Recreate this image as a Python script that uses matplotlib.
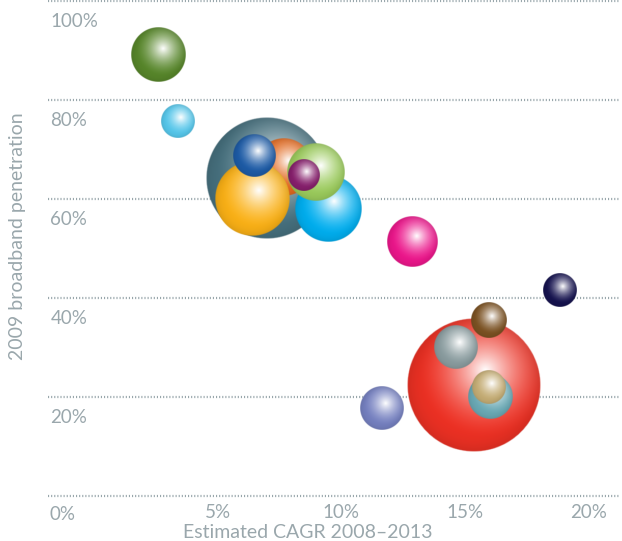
import numpy as np
import matplotlib.pyplot as plt
import matplotlib.colors as mcolors

# estimated CAGR 2008-2013 (%), 2009 broadband penetration (%), market size (relative)
cagr = [6.98, 7.67, 6.38, 6.46, 9.47, 8.97, 8.46, 2.59, 3.38, 12.86,
        15.35, 14.65, 15.98, 16.04, 15.96, 11.65, 18.86]
penetration = [64.2, 66.5, 60.0, 68.7, 58.0, 65.5, 64.7, 89.2, 75.8, 51.3,
               22.3, 30.1, 35.6, 20.0, 22.0, 17.8, 41.6]
market_size = [103, 23, 39, 12.8, 31, 23, 6.7, 21, 8, 17.4,
               123, 13.4, 9, 14, 7.6, 13.4, 8]
colors = ["#47717f", "#e2691f", "#fbb116", "#1d5ba6", "#00aeef", "#9bcb5c",
          "#861f6c", "#57862a", "#55c6ea", "#ec168b", "#ee3124", "#8a9c9f",
          "#7a5122", "#6aa9b5", "#c4ac74", "#7580c0", "#15124e"]

xticks = [5, 10, 15, 20]
yticks = [20, 40, 60, 80, 100]
gridlines = [0, 20, 40, 60, 80, 100]

txt = "#9aa7ac"
plt.rcParams['font.family'] = ['Lato', 'DejaVu Sans']

fig = plt.figure(figsize=(6.22, 5.41), dpi=100)
W, H = 622, 541
ax = fig.add_axes([48 / W, 1 - 500 / H, (620 - 48) / W, 497 / H])
ax.set_xlim(-1.89, 21.29)
ax.set_ylim(-0.8, 99.6)
for s in ax.spines.values():
    s.set_visible(False)
ax.set_yticks([])
ax.set_xticks(xticks)
ax.set_xticklabels([f"{t}%" for t in xticks], color=txt, fontsize=13.5)
ax.tick_params(axis='x', length=0, pad=3)
ax.text(0.025, -0.012, "0%", transform=ax.transAxes, color=txt,
        fontsize=13.5, ha='center', va='top')

for t in gridlines:
    ax.axhline(t, color="#98a6ab", lw=1.6, ls=(0, (0.5, 0.9)), zorder=0, clip_on=False)
for t in yticks:
    ax.text(0.004, t - 2.5, f"{t}%", transform=ax.get_yaxis_transform(),
            color=txt, fontsize=13.5, ha='left', va='top', zorder=0)

fig.text(308 / W, 1 - 532 / H, "Estimated CAGR 2008\u20132013", color=txt,
         fontsize=14, ha='center', va='center')
fig.text(18 / W, 1 - 236 / H, "2009 broadband penetration", rotation=90,
         color=txt, fontsize=14, ha='center', va='center')

# pixels per data unit
p0 = ax.transData.transform((0, 0))
p1 = ax.transData.transform((1, 1))
sx, sy = p1[0] - p0[0], p1[1] - p0[1]

N = 240
u, v = np.meshgrid(np.linspace(-1, 1, N), np.linspace(-1, 1, N))
rr = np.sqrt(u ** 2 + v ** 2)
dh = np.sqrt((u - 0.17) ** 2 + (v - 0.22) ** 2)
w = np.clip(1 - dh / 1.0, 0, 1) ** 1.6
rim = np.clip(rr, 0, 1) ** 6
alpha = np.clip((1 - rr) * N / 2.5, 0, 1)

for i, (x, y, m, c) in enumerate(zip(cagr, penetration, market_size, colors)):
    r = 6 * np.sqrt(m)
    base = np.array(mcolors.to_rgb(c))
    img = np.zeros((N, N, 4))
    col = base[None, None, :] * (1 - 0.12 * rim[..., None])
    col = col * (1 - w[..., None]) + w[..., None] * 1.0
    img[..., :3] = col
    img[..., 3] = alpha
    ax.imshow(img, extent=(x - r / sx, x + r / sx, y - r / sy, y + r / sy),
              origin='lower', interpolation='bilinear', aspect='auto', zorder=2 + i)

ax.set_xlim(-1.89, 21.29)
ax.set_ylim(-0.8, 99.6)
fig.savefig("out.png", dpi=100)
